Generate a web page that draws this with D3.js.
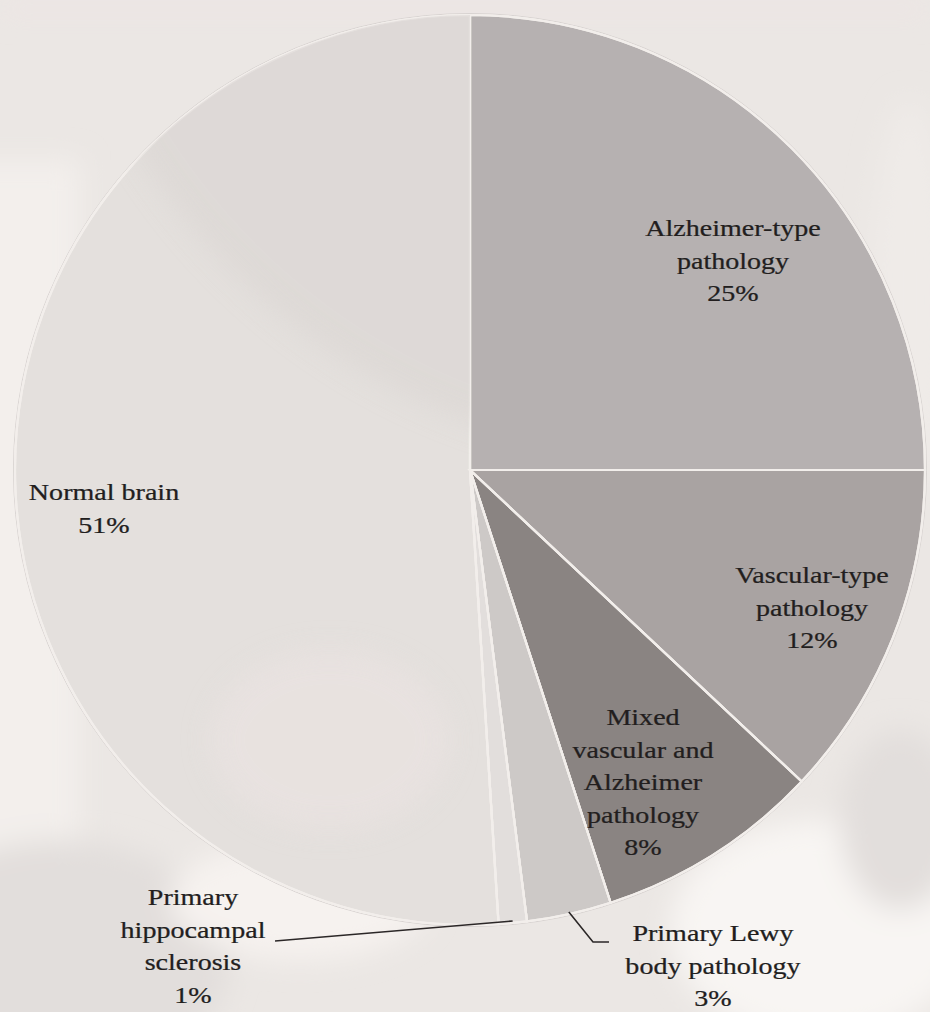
<!DOCTYPE html>
<html>
<head>
<meta charset="utf-8">
<script src="https://cdn.jsdelivr.net/npm/d3@7/dist/d3.min.js"></script>
<style>
  html, body { margin: 0; padding: 0; background: #ece8e5; }
  svg { display: block; }
  text { font-family: "Liberation Serif", "Times New Roman", serif; fill: #221e1e; stroke: #221e1e; stroke-width: 0.25; }
</style>
</head>
<body>
<svg id="chart" width="930" height="1012"></svg>
<script>
// Neuropathology findings, clockwise from 12 o'clock
const categories = [
  "Alzheimer-type pathology",
  "Vascular-type pathology",
  "Mixed vascular and Alzheimer pathology",
  "Primary Lewy body pathology",
  "Primary hippocampal sclerosis",
  "Normal brain"
];
const shares = [25, 12, 8, 3, 1, 51];
// label lines as printed on the chart
const labelLines = [
  ["Alzheimer-type", "pathology", "25%"],
  ["Vascular-type", "pathology", "12%"],
  ["Mixed", "vascular and", "Alzheimer", "pathology", "8%"],
  ["Primary Lewy", "body pathology", "3%"],
  ["Primary", "hippocampal", "sclerosis", "1%"],
  ["Normal brain", "51%"]
];
const sliceColors = ["#b6b1b1", "#a9a3a2", "#8a8482", "#cdc9c7", "#e2dedc", "#e4e0dd"];

const W = 930, H = 1012;
const cx = 470, cy = 470, R = 455;
const svg = d3.select("#chart");
const defs = svg.append("defs");

defs.append("filter").attr("id", "soft")
  .attr("x", "-30%").attr("y", "-30%").attr("width", "160%").attr("height", "160%")
  .append("feGaussianBlur").attr("stdDeviation", 14);

// backdrop
svg.append("rect").attr("width", W).attr("height", H).attr("fill", "#ebe7e4");
const bg = svg.append("g").attr("filter", "url(#soft)");
bg.append("rect").attr("x", -40).attr("y", 160).attr("width", 120).attr("height", 700).attr("fill", "#f3efec");
bg.append("rect").attr("x", 0).attr("y", 6).attr("width", W).attr("height", 6).attr("fill", "#f0e2e6");
bg.append("ellipse").attr("cx", 60).attr("cy", 960).attr("rx", 170).attr("ry", 120).attr("fill", "#e2dedc");
bg.append("ellipse").attr("cx", 300).attr("cy", 900).attr("rx", 130).attr("ry", 60).attr("fill", "#f6f2ef");
bg.append("ellipse").attr("cx", 820).attr("cy", 930).attr("rx", 150).attr("ry", 110).attr("fill", "#f8f5f3");
bg.append("ellipse").attr("cx", 900).attr("cy", 820).attr("rx", 60).attr("ry", 90).attr("fill", "#e2dedc");
bg.append("ellipse").attr("cx", 910).attr("cy", 300).attr("rx", 40).attr("ry", 200).attr("fill", "#efebe8");

const pie = d3.pie().sort(null).value(d => d)(shares);
const arc = d3.arc().innerRadius(0).outerRadius(R);

const g = svg.append("g").attr("transform", `translate(${cx},${cy})`);

// outer rim
g.append("circle").attr("r", R + 1.5).attr("fill", "none")
  .attr("stroke", "#d8d3d1").attr("stroke-width", 1);

g.selectAll("path.slice")
  .data(pie)
  .join("path")
  .attr("class", "slice")
  .attr("d", arc)
  .attr("fill", (d, i) => sliceColors[i])
  .attr("stroke", "#f2eeeb")
  .attr("stroke-width", 2.2)
  .attr("stroke-linejoin", "round");

// soft shading across the large slice
const normal = pie[5];
defs.append("clipPath").attr("id", "normalClip")
  .append("path").attr("d", arc(normal)).attr("transform", `translate(${cx},${cy})`);
const shade = svg.append("g").attr("clip-path", "url(#normalClip)");
shade.append("circle").attr("cx", 690).attr("cy", -190).attr("r", 650)
  .attr("fill", "#d9d4d1").attr("opacity", 0.55).attr("filter", "url(#soft)");
shade.append("ellipse").attr("cx", 330).attr("cy", 740).attr("rx", 120).attr("ry", 90)
  .attr("fill", "#ebe3e2").attr("opacity", 0.6).attr("filter", "url(#soft)");

// re-stroke slice edges above the shading
g.selectAll("path.edge")
  .data(pie)
  .join("path")
  .attr("class", "edge")
  .attr("d", arc)
  .attr("fill", "none")
  .attr("stroke", "#f2eeeb")
  .attr("stroke-width", 2.2);

// labels: [center x, first baseline] in page space
const labelPos = [
  [733, 236], [812, 583], [643, 725], [713, 941], [193, 905], [104, 500]
];
const lineGap = 32.5;
const xScaleText = 1.22;

const labels = svg.append("g");
labelPos.forEach((p, i) => {
  labelLines[i].forEach((ln, k) => {
    labels.append("text")
      .attr("transform", `translate(${p[0]},${p[1] + k * lineGap}) scale(${xScaleText},1)`)
      .attr("text-anchor", "middle")
      .attr("font-size", 23)
      .text(ln);
  });
});

// leader lines for the two narrow slices
const rimArc = d3.arc().innerRadius(R - 2).outerRadius(R - 2);
const hip = rimArc.centroid(pie[4]);
const lew = rimArc.centroid(pie[3]);
svg.append("path")
  .attr("d", d3.line()([[275, 941], [cx + hip[0], cy + hip[1]]]))
  .attr("fill", "none").attr("stroke", "#2b2727").attr("stroke-width", 1.6);
svg.append("path")
  .attr("d", d3.line()([[cx + lew[0], cy + lew[1]], [593, 942], [609, 942]]))
  .attr("fill", "none").attr("stroke", "#2b2727").attr("stroke-width", 1.6);
</script>
</body>
</html>
